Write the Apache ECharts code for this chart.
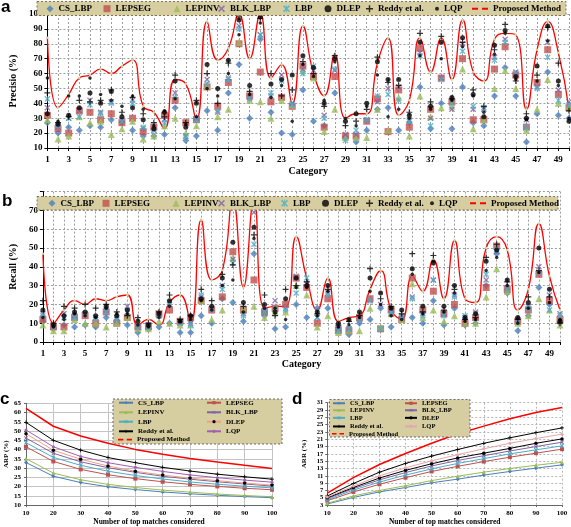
<!DOCTYPE html>
<html><head><meta charset="utf-8">
<script src="https://cdn.jsdelivr.net/npm/echarts@6/dist/echarts.min.js"></script>
<style>html,body{margin:0;padding:0;background:#fff}#c{width:571px;height:527px}</style>
</head><body><div id="c"></div>
<script>
// ---------- DATA ----------
const categories = ['1','2','3','4','5','6','7','8','9','10','11','12','13','14','15','16','17','18','19','20','21','22','23','24','25','26','27','28','29','30','31','32','33','34','35','36','37','38','39','40','41','42','43','44','45','46','47','48','49','50'];
const methods = ['CS_LBP','LEPSEG','LEPINV','BLK_LBP','LBP','DLEP','Reddy et al.','LQP'];
const proposedName = 'Proposed Method';

// (a) Precision per category
const precCS     = [27,20,24,22,25,24,29,27,22,18,18,19,37,15,18,35,22,47,66,30,83,34,20,19,49,28,25,47,17,14,22,36,37,22,27,51,23,40,23,51,27,25,45,64,45,14,33,61,32,30];
const precLEPSEG = [32,23,20,35,34,29,33,27,30,21,24,32,42,27,29,51,38,54,80,45,61,41,44,38,65,58,24,58,18,18,28,43,21,49,24,77,36,57,41,70,29,29,63,78,59,24,54,76,46,37];
const precLEPINV = [29,16,18,31,27,28,19,23,28,16,18,25,30,20,25,52,31,36,81,42,41,30,42,39,62,57,21,36,17,17,17,36,22,44,18,45,31,37,38,63,23,29,50,62,50,22,36,56,40,38];
const precBLK    = [37,24,30,35,42,34,41,29,42,23,22,29,47,18,30,56,34,57,92,44,86,45,59,40,63,62,32,62,19,19,29,41,50,51,29,74,30,57,36,80,36,36,71,83,61,29,51,81,49,41];
const precLBP    = [43,25,30,31,39,33,40,28,40,24,22,27,44,18,29,53,35,56,90,43,86,47,55,39,60,65,30,63,15,22,29,45,46,42,28,72,25,56,40,75,38,37,69,81,60,24,50,71,42,39];
const precDLEP   = [33,26,32,37,47,40,48,31,37,29,23,34,55,24,40,66,50,69,96,52,98,53,56,59,72,64,40,70,28,33,40,68,56,56,32,81,38,81,44,84,46,31,79,89,58,30,65,92,55,28];
const precReddy  = [47,27,31,42,41,42,49,34,44,33,27,31,59,27,42,60,40,67,98,48,97,60,45,49,68,60,38,72,25,28,36,71,54,52,34,87,41,85,43,81,49,38,76,93,55,33,59,91,67,35];
const precLQP    = [57,28,45,45,57,46,42,38,45,36,25,35,43,26,31,50,45,60,86,46,94,44,52,28,66,58,42,68,30,25,38,59,31,36,30,72,36,70,42,78,45,34,73,87,56,29,55,82,52,30];
const precProp   = [84,37,46,57,59,63,60,65,69,38,34,23,56,53,29,95,69,77,100,70,100,57,66,40,92,60,45,73,30,33,33,67,84,32,42,84,61,84,56,96,61,55,83,87,86,36,76,95,74,36];

// (b) Recall per category
const recCS     = [11,7,9,8,9,8,13,11,9,5,7,8,10,5,5,14,10,23,21,11,47,14,7,8,20,13,18,18,8,4,10,12,18,8,13,13,10,22,9,18,9,10,30,47,26,6,14,29,20,10];
const recLEPSEG = [12,8,8,13,14,10,16,10,13,8,8,15,17,11,13,22,17,24,48,17,33,16,18,20,34,29,10,23,6,6,13,23,7,17,12,34,17,27,15,20,10,13,29,51,28,11,17,36,22,12];
const recLEPINV = [9,6,6,12,10,10,8,10,13,7,7,11,10,9,9,22,12,17,45,18,19,13,16,16,30,25,8,14,5,6,6,18,8,15,12,31,13,17,11,14,10,10,24,39,27,10,14,23,17,9];
const recBLK    = [15,8,15,14,15,13,17,13,19,8,9,14,20,10,10,24,18,30,44,15,69,17,22,18,35,31,13,26,7,7,12,22,20,15,14,24,15,33,15,25,13,16,33,48,29,12,19,40,25,15];
const recLBP    = [14,8,13,13,15,12,16,12,16,8,8,14,21,10,9,25,17,28,42,14,52,16,18,17,26,34,13,25,6,7,12,22,7,16,13,23,14,33,14,24,14,15,36,49,28,11,18,37,17,14];
const recDLEP   = [17,9,14,16,16,14,19,14,17,11,9,15,22,11,14,23,19,34,53,21,61,20,16,23,34,30,16,30,10,12,16,34,26,18,17,39,19,42,19,30,13,15,43,49,33,13,21,50,28,11];
const recReddy  = [22,10,19,18,20,18,20,16,14,13,10,16,25,12,14,28,22,36,41,19,57,25,14,28,30,32,15,28,9,11,14,39,23,19,15,47,16,46,17,28,12,13,45,52,32,12,24,38,24,10];
const recLQP    = [13,8,12,15,14,13,18,15,15,9,8,13,19,11,12,22,17,30,33,16,55,18,18,12,29,29,14,27,8,9,13,27,20,14,12,36,15,43,16,26,11,12,38,45,30,10,18,37,21,12];
const recProp   = [47,10,17,22,20,23,22,24,25,9,12,9,21,25,10,65,33,38,76,29,76,18,19,19,56,34,17,34,11,13,14,28,38,17,12,35,27,44,23,54,23,21,50,56,49,17,28,63,35,17];

// (c) ARP vs number of top matches
const topMatches = [10,20,30,40,50,60,70,80,90,100];
const arpCS     = [33.0,25.6,22.2,19.9,18.4,17.1,16.1,15.3,14.6,14.0];
const arpLEPSEG = [41.5,33.6,29.3,26.4,24.3,22.6,21.2,20.1,19.1,18.3];
const arpLEPINV = [35.1,27.3,23.7,21.2,19.5,18.1,17.0,16.0,15.2,14.5];
const arpBLK    = [46.2,38.0,33.4,30.2,27.7,25.6,24.0,22.6,21.4,20.3];
const arpLBP    = [43.7,35.8,31.5,28.3,26.0,24.1,22.5,21.3,20.2,19.3];
const arpDLEP   = [48.6,39.6,34.8,31.1,28.3,26.2,24.6,23.2,21.9,20.8];
const arpReddy  = [54.7,45.0,39.7,35.7,32.9,30.4,28.4,26.7,25.3,24.0];
const arpLQP    = [50.6,41.5,36.3,32.9,30.4,28.2,26.3,24.8,23.5,22.4];
const arpProp   = [62.3,52.6,47.3,43.4,40.1,37.5,35.2,33.3,31.5,29.8];

// (d) ARR vs number of top matches
const arrCS     = [3.3,5.1,6.6,7.8,9.1,10.1,11.2,12.2,13.1,14.0];
const arrLEPSEG = [4.2,6.6,8.7,10.5,12.2,13.6,14.9,16.1,17.2,18.3];
const arrLEPINV = [3.5,5.5,7.0,8.3,9.7,10.9,12.0,13.0,13.9,14.7];
const arrBLK    = [4.8,7.5,9.9,11.9,13.7,15.2,16.5,17.8,19.0,20.2];
const arrLBP    = [4.5,7.1,9.3,11.2,12.9,14.4,15.7,17.0,18.1,19.2];
const arrDLEP   = [5.0,7.8,10.4,12.5,14.3,15.9,17.2,18.5,19.9,21.1];
const arrReddy  = [5.5,8.9,12.0,14.4,16.4,18.2,19.9,21.4,22.8,24.1];
const arrLQP    = [5.2,8.2,11.0,13.2,15.1,16.8,18.4,19.9,21.2,22.4];
const arrProp   = [6.3,10.5,14.1,17.1,19.9,22.5,24.6,26.6,28.3,29.7];

// ---------- STYLE ----------
const SERIF = '"Liberation Serif", "Times New Roman", serif';
const X_PATH = 'path://M0,1.6L1.6,0L5,3.4L8.4,0L10,1.6L6.6,5L10,8.4L8.4,10L5,6.6L1.6,10L0,8.4L3.4,5Z';
const STAR_PATH = 'path://M0,1.6L1.6,0L5,3.4L8.4,0L10,1.6L6.6,5L10,8.4L8.4,10L5,6.6L1.6,10L0,8.4L3.4,5Z M4.4,0H5.6V10H4.4Z';
const PLUS_PATH = 'path://M4,0H6V4H10V6H6V10H4V6H0V4H4Z';
const symbols = ['diamond','rect','triangle',X_PATH,STAR_PATH,'circle',PLUS_PATH,'circle'];
const markColors = ['#4a7ebb','#c0504d','#9bbb59','#8064a2','#4bacc6','#000000','#000000','#000000'];
const scatterSizes = [7,7,7,6,6,5,6,3.5];
const lineColorsC = ['#4a7ebb','#c0504d','#9bbb59','#8064a2','#4bacc6','#f2a07a','#000000','#a060b0'];
const markColorsC = ['#4a7ebb','#c0504d','#9bbb59','#8064a2','#4bacc6','#000000','#000000','#a060b0'];
const lineColorsD = ['#4a7ebb','#c0504d','#9bbb59','#8064a2','#4bacc6','#000000','#000000','#e6a8a8'];
const markColorsD = ['#4a7ebb','#c0504d','#9bbb59','#8064a2','#4bacc6','#000000','#000000','#e6a8a8'];
const lineSizes = [4,4,4,4,4,3.5,4,3];
const RED = '#ff0000';

const precSets = [precCS,precLEPSEG,precLEPINV,precBLK,precLBP,precDLEP,precReddy,precLQP];
const recSets  = [recCS,recLEPSEG,recLEPINV,recBLK,recLBP,recDLEP,recReddy,recLQP];
const arpSets  = [arpCS,arpLEPSEG,arpLEPINV,arpBLK,arpLBP,arpDLEP,arpReddy,arpLQP];
const arrSets  = [arrCS,arrLEPSEG,arrLEPINV,arrBLK,arrLBP,arrDLEP,arrReddy,arrLQP];

const series = [];
// (a) and (b) scatter
[[precSets,precProp,0],[recSets,recProp,1]].forEach(([sets,prop,gi])=>{
  sets.forEach((vals,k)=>{
    series.push({name:methods[k], type:'scatter', xAxisIndex:gi, yAxisIndex:gi,
      symbol:symbols[k], symbolSize:scatterSizes[k], itemStyle:{color:markColors[k]},
      data:vals, z:3, animation:false});
  });
  series.push({name:proposedName, type:'line', xAxisIndex:gi, yAxisIndex:gi, smooth:0.5,
    symbol:'circle', symbolSize:2.5, itemStyle:{color:'#c9d99f'},
    lineStyle:{color:RED, width:1.3}, data:prop, z:2, animation:false});
});
// (c) and (d) lines
[[arpSets,arpProp,2,'c·',lineColorsC,markColorsC],[arrSets,arrProp,3,'d·',lineColorsD,markColorsD]].forEach(([sets,prop,gi,pre,lc,mc])=>{
  sets.forEach((vals,k)=>{
    series.push({name:pre+methods[k], type:'line', xAxisIndex:gi, yAxisIndex:gi,
      symbol:symbols[k], symbolSize:lineSizes[k], itemStyle:{color:mc[k]},
      lineStyle:{color:lc[k], width:1}, data:topMatches.map((x,i)=>[x,vals[i]]), animation:false});
  });
  series.push({name:pre+proposedName, type:'line', xAxisIndex:gi, yAxisIndex:gi, symbol:'none',
    itemStyle:{color:RED}, lineStyle:{color:RED, width:1.5}, data:topMatches.map((x,i)=>[x,prop[i]]), animation:false});
});

// ---------- LEGENDS ----------
const DASH_PATH = 'path://M0,0H6V2H0Z M10,0H16V2H10Z';
function leg(name, left, cy, w, h, fs, extra){
  const item = Object.assign({name:name}, extra||{});
  const th = fs;
  return {data:[item], left:left, top:cy - Math.max(h,th)/2, itemWidth:w, itemHeight:h, padding:0, itemGap:0,
    selectedMode:false, z:5,
    formatter:n=>n.replace(/^[cd]·/,''),
    textStyle:{fontFamily:SERIF, fontWeight:'bold', fontSize:fs, color:'#000'}};
}
const legends = [];
function topLegend(cy, lefts){
  methods.forEach((m,k)=>legends.push(leg(m, lefts[k], cy, scatterSizes[k]<5?4:7, scatterSizes[k]<5?4:7, 9)));
  legends.push(leg(proposedName, lefts[8], cy, 16, 2, 9, {icon:DASH_PATH, itemStyle:{color:RED}}));
}
topLegend(8.7, [46.5,103.5,173.5,218,283,324.5,366,435,472]);
topLegend(203.3, [48.5,102.5,172.5,218,281,322,366,430,470]);
function boxLegend(pre, col1x, col2x, rows, fs, w){
  const order = [[0,1],[2,3],[4,5],[6,7],[8,null]];
  order.forEach((pair,r)=>{
    pair.forEach((k,c)=>{
      if(k===null) return;
      const x = c===0?col1x:col2x;
      if(k===8) legends.push(leg(pre+proposedName, x, rows[r], w, 2, fs, {icon:DASH_PATH, itemStyle:{color:RED}}));
      else legends.push(leg(pre+methods[k], x, rows[r], w, 4, fs));
    });
  });
}
boxLegend('c·', 118, 206, [402.7,412.3,421.7,431.3,439.6], 7, 14);
boxLegend('d·', 332, 404, [403.0,410.0,417.6,426.2,433.6], 6.5, 12);

// ---------- AXES ----------
const axLbl = (fs,m)=>({fontFamily:SERIF, fontWeight:'bold', fontSize:fs, color:'#000', margin:m});
const nameStyle = fs=>({fontFamily:SERIF, fontWeight:'bold', fontSize:fs, color:'#000'});
const dashed = {show:true, lineStyle:{color:'#9d9d9d', type:[2,2], width:1}};

const option = {
  animation:false,
  backgroundColor:'#ffffff',
  grid:[
    {left:37, top:14, width:532, height:134},
    {left:36, top:191.6, width:524, height:150.4},
    {left:26, top:403.3, width:246, height:104},
    {left:327.3, top:402.7, width:234.7, height:104}
  ],
  xAxis:[
    {gridIndex:0, type:'category', data:categories, boundaryGap:false,
      axisLine:{lineStyle:{color:'#000'}}, axisTick:{interval:0, length:3, lineStyle:{color:'#000'}},
      axisLabel:Object.assign(axLbl(9,7),{interval:1}), splitLine:Object.assign({interval:0},dashed),
      name:'Category', nameLocation:'middle', nameGap:18, nameTextStyle:nameStyle(10)},
    {gridIndex:1, type:'category', data:categories, boundaryGap:false,
      axisLine:{lineStyle:{color:'#000'}}, axisTick:{interval:0, length:3, lineStyle:{color:'#000'}},
      axisLabel:Object.assign(axLbl(9,7),{interval:1}), splitLine:Object.assign({interval:0},dashed),
      name:'Category', nameLocation:'middle', nameGap:17, nameTextStyle:nameStyle(10)},
    {gridIndex:2, type:'value', min:10, max:100, interval:10,
      axisLine:{lineStyle:{color:'#666'}}, axisTick:{length:2, lineStyle:{color:'#666'}},
      axisLabel:axLbl(7,5), splitLine:{show:true, lineStyle:{color:'#c4c4c4', width:1}},
      name:'Number of top matches considered', nameLocation:'middle', nameGap:12, nameTextStyle:nameStyle(7.5)},
    {gridIndex:3, type:'value', min:10, max:100, interval:10,
      axisLine:{lineStyle:{color:'#666'}}, axisTick:{length:2, lineStyle:{color:'#666'}},
      axisLabel:axLbl(7,5), splitLine:{show:true, lineStyle:{color:'#b5b5b5', type:[2,2], width:1}},
      name:'Number of top matches considered', nameLocation:'middle', nameGap:12, nameTextStyle:nameStyle(7.5)}
  ],
  yAxis:[
    {gridIndex:0, type:'value', min:10, max:100, interval:10,
      axisLine:{show:true, lineStyle:{color:'#000'}}, axisTick:{show:true, length:3, lineStyle:{color:'#000'}},
      axisLabel:axLbl(9,5), splitLine:dashed,
      name:'Precisio (%)', nameLocation:'middle', nameGap:22, nameTextStyle:nameStyle(10)},
    {gridIndex:1, type:'value', min:0, max:80, interval:10,
      axisLine:{show:true, lineStyle:{color:'#000'}}, axisTick:{show:true, length:3, lineStyle:{color:'#000'}},
      axisLabel:Object.assign(axLbl(9,5),{formatter:v=>v>=80?'':String(v)}), splitLine:dashed,
      name:'Recall (%)', nameLocation:'middle', nameGap:18, nameTextStyle:nameStyle(10)},
    {gridIndex:2, type:'value', min:10, max:65, interval:5,
      axisLine:{show:true, lineStyle:{color:'#666'}}, axisTick:{show:true, length:2, lineStyle:{color:'#666'}},
      axisLabel:axLbl(7,5), splitLine:{show:true, lineStyle:{color:'#c4c4c4', width:1}},
      name:'ARP (%)', nameLocation:'middle', nameGap:13, nameTextStyle:nameStyle(7)},
    {gridIndex:3, type:'value', min:3, max:31, interval:2,
      axisLine:{show:true, lineStyle:{color:'#666'}}, axisTick:{show:true, length:2, lineStyle:{color:'#666'}},
      axisLabel:axLbl(6.5,4), splitLine:{show:true, lineStyle:{color:'#b5b5b5', type:[2,2], width:1}},
      name:'ARR (%)', nameLocation:'middle', nameGap:20, nameTextStyle:nameStyle(7)}
  ],
  legend:legends,
  graphic:[
    {type:'rect', z:4, shape:{x:37, y:1.5, width:529, height:14}, style:{fill:'#d6cda0', stroke:'#7d7450', lineWidth:1, lineDash:[2,2]}},
    {type:'rect', z:4, shape:{x:37, y:196.5, width:521, height:13.5}, style:{fill:'#d6cda0', stroke:'#7d7450', lineWidth:1, lineDash:[2,2]}},
    {type:'rect', z:4, shape:{x:113, y:399, width:169, height:45}, style:{fill:'#d6cda0', stroke:'#6b6b6b', lineWidth:1, lineDash:[2,2]}},
    {type:'rect', z:4, shape:{x:329.5, y:399.5, width:140.5, height:37.5}, style:{fill:'#d6cda0', stroke:'#6b6b6b', lineWidth:1, lineDash:[2,2]}},
    {type:'text', z:6, style:{text:'a', x:1, y:-1, font:'bold 17px "Liberation Sans", Arial, sans-serif', fill:'#000'}},
    {type:'text', z:6, style:{text:'b', x:2, y:193, font:'bold 17px "Liberation Sans", Arial, sans-serif', fill:'#000'}},
    {type:'text', z:6, style:{text:'c', x:0, y:391, font:'bold 17px "Liberation Sans", Arial, sans-serif', fill:'#000'}},
    {type:'text', z:6, style:{text:'d', x:292, y:391, font:'bold 17px "Liberation Sans", Arial, sans-serif', fill:'#000'}}
  ],
  series:series
};
const chart = echarts.init(document.getElementById('c'), null, {renderer:'canvas'});
chart.setOption(option);
</script></body></html>
